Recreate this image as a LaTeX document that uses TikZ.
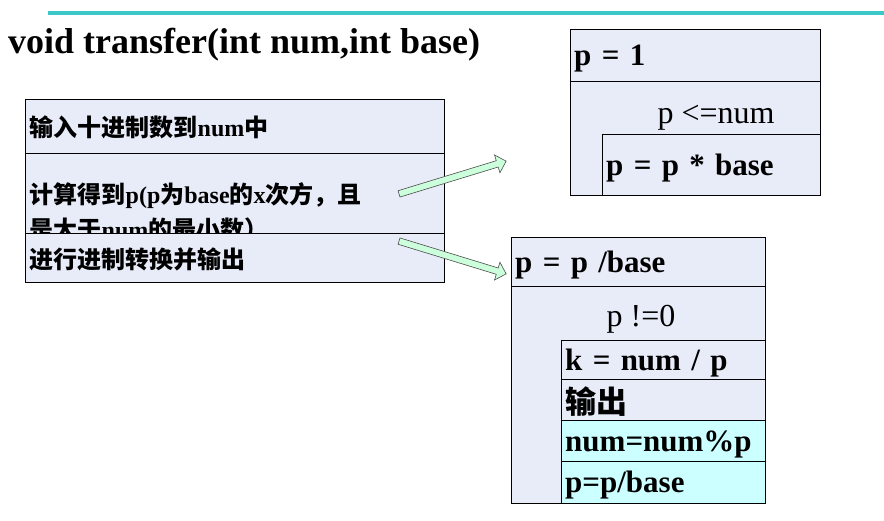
\documentclass[tikz,border=0pt]{standalone}
\usepackage{fontspec}
\setmainfont{Liberation Serif}
\newfontfamily\cjk{Noto Sans CJK SC}
\usetikzlibrary{shapes.arrows}
\definecolor{rowblue}{RGB}{232,236,248}
\definecolor{rowcyan}{RGB}{204,255,255}
\definecolor{topline}{RGB}{60,200,200}
\definecolor{arrowgreen}{RGB}{204,255,220}
\tikzset{
  row/.style={draw,fill=rowblue,anchor=north west,inner sep=4pt,align=left,text depth=0pt},
  leftrow/.style={row,minimum width=419pt,text width=410pt,inner xsep=3pt,font=\fontsize{24}{35}\selectfont\bfseries},
  coderow/.style={row,inner xsep=3pt,font=\fontsize{31}{34}\selectfont\bfseries},
  fatarrow/.style={single arrow,draw=black!70,fill=arrowgreen,inner xsep=0pt,inner ysep=3pt,single arrow head extend=6pt,line width=0.6pt}
}
\begin{document}
\begin{tikzpicture}[x=1pt,y=-1pt]
\useasboundingbox (0,0) rectangle (884,521);
\fill[white] (0,0) rectangle (884,521);

\draw[topline,line width=4pt] (48,13) -- (884,13);
\node[anchor=west,inner sep=0pt,font=\fontsize{36}{40}\selectfont\bfseries] (title) at (8,45) {void transfer(int num,int base)};

% left box
\node[leftrow,minimum height=54pt,anchor=north west] (in) at (25,99) {{\cjk 输入十进制数到}num{\cjk 中}};
\node[leftrow,minimum height=80pt] (calc) at (25,153) {{\cjk 计算得到}p(p{\cjk 为}base{\cjk 的}x{\cjk 次方，且}\\{\cjk 是大于}num{\cjk 的最小数）}};
\node[leftrow,minimum height=49pt] (conv) at (25,233) {{\cjk 进行进制转换并输出}};

% top right box
\draw[fill=rowblue] (570,29) rectangle (820,195);
\node[coderow,minimum width=250pt,minimum height=52pt,anchor=north west,text width=242pt] (pinit) at (570,29) {p = 1};
\node[font=\fontsize{32}{34}\selectfont] (cond1) at (716,118) {p <=num};
\node[coderow,minimum width=218pt,minimum height=61pt,text width=210pt] (pmul) at (602,134) {p = p * base};

% bottom right box
\draw[fill=rowblue] (511,237) rectangle (765,503);
\node[coderow,minimum width=254pt,minimum height=49pt,text width=246pt] (pdiv) at (511,237) {p = p /base};
\node[font=\fontsize{32}{34}\selectfont] (cond2) at (641,319) {p !=0};
\node[coderow,minimum width=204pt,minimum height=39pt,text width=196pt] (k) at (561,340) {k = num / p};
\node[coderow,minimum width=204pt,minimum height=41pt,text width=196pt] (out) at (561,379) {{\cjk 输出}};
\node[coderow,fill=rowcyan,minimum width=204pt,minimum height=41pt,text width=196pt] (mod) at (561,420) {num=num\%p};
\node[coderow,fill=rowcyan,minimum width=204pt,minimum height=42pt,text width=196pt] (pnext) at (561,461) {p=p/base};

% arrows
\node[fatarrow,minimum height=112pt,rotate=17] (a1) at (451,178) {};
\node[fatarrow,minimum height=112pt,rotate=-17] (a2) at (451,257) {};
\end{tikzpicture}
\end{document}
